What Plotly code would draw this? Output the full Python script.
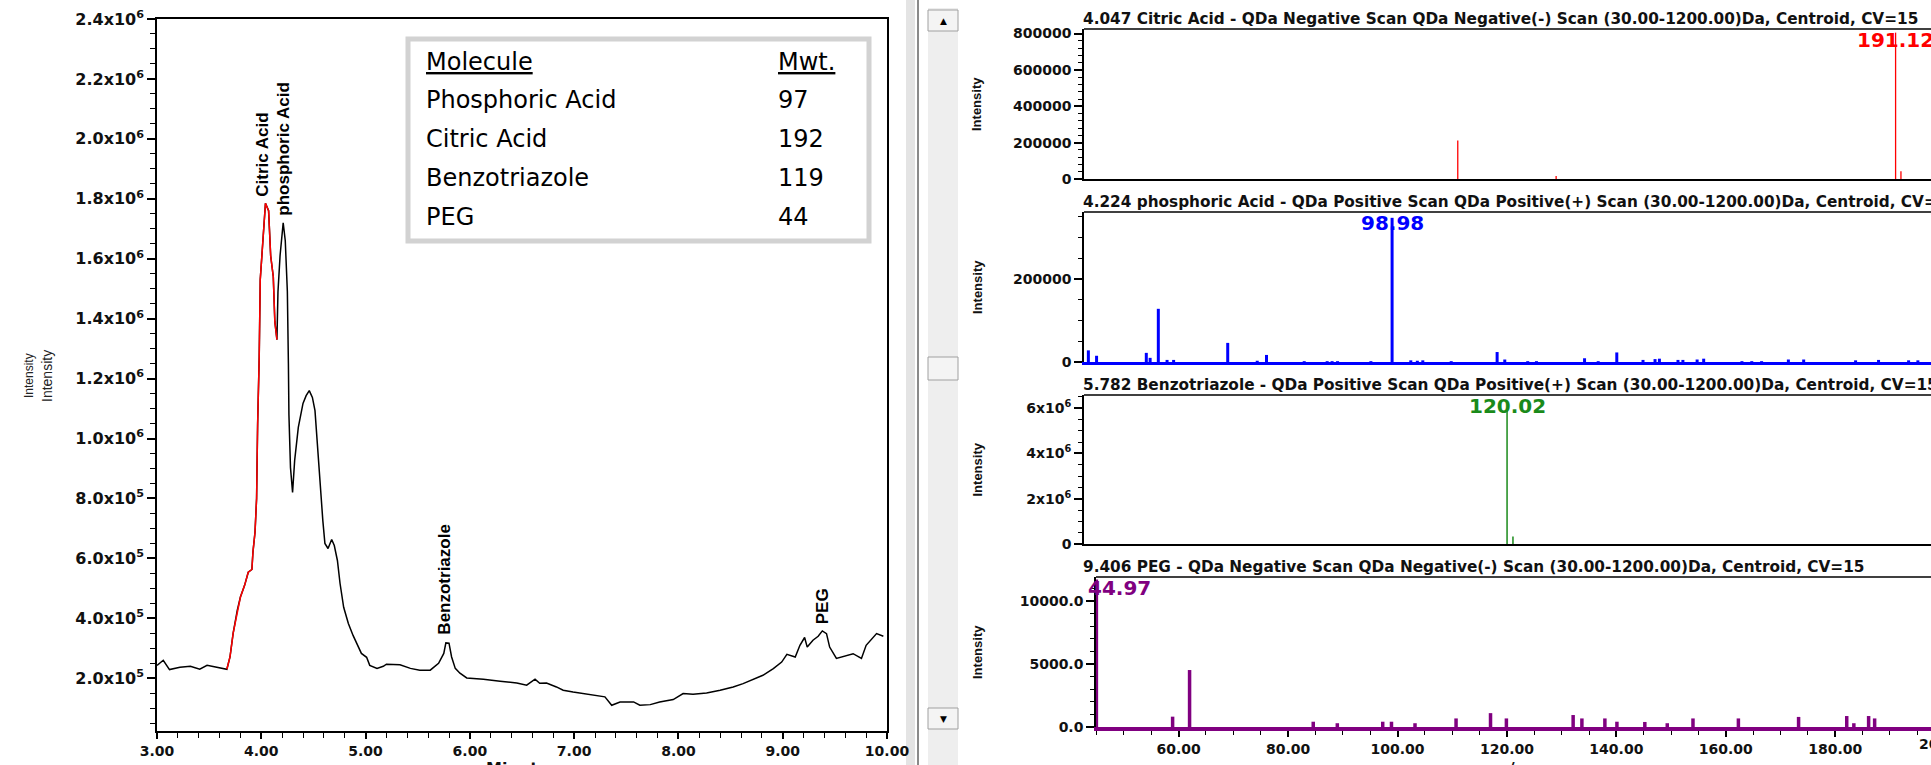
import plotly.graph_objects as go

W, H = 1931, 765

# ---------------- data ----------------
chrom_time = [3.00, 3.06, 3.12, 3.22, 3.32, 3.41, 3.48, 3.57, 3.67, 3.70, 3.73, 3.77, 3.80, 3.84, 3.875,
              3.91, 3.92, 3.94, 3.955, 3.965, 3.975, 3.98, 3.99, 4.02, 4.04, 4.07, 4.09, 4.115, 4.13, 4.15,
              4.16, 4.18, 4.20, 4.21, 4.23, 4.25, 4.26, 4.265, 4.28, 4.30, 4.32, 4.355, 4.40, 4.43, 4.46,
              4.49, 4.515, 4.545, 4.57, 4.59, 4.61, 4.64, 4.675, 4.70, 4.73, 4.755, 4.79, 4.835, 4.88, 4.93,
              4.96, 5.01, 5.04, 5.11, 5.17, 5.20, 5.33, 5.43, 5.52, 5.62, 5.70, 5.75, 5.77, 5.80, 5.825,
              5.86, 5.905, 5.97, 6.13, 6.29, 6.45, 6.545, 6.625, 6.67, 6.735, 6.83, 6.895, 6.99, 7.12, 7.25,
              7.295, 7.36, 7.44, 7.57, 7.63, 7.73, 7.82, 7.95, 8.045, 8.14, 8.27, 8.40, 8.525, 8.62, 8.72,
              8.81, 8.91, 8.99, 9.04, 9.12, 9.165, 9.21, 9.235, 9.29, 9.34, 9.38, 9.42, 9.45, 9.515, 9.58,
              9.675, 9.755, 9.80, 9.90, 9.965]
chrom_intensity = [243e3, 260e3, 229e3, 237e3, 240e3, 230e3, 243e3, 237e3, 230e3, 271e3, 350e3, 427e3, 471e3,
                   510e3, 554e3, 563e3, 621e3, 688e3, 800e3, 1050e3, 1193e3, 1270e3, 1530e3, 1680e3, 1785e3,
                   1760e3, 1610e3, 1540e3, 1390e3, 1330e3, 1490e3, 1610e3, 1680e3, 1720e3, 1660e3, 1490e3,
                   1250e3, 1080e3, 903e3, 820e3, 927e3, 1037e3, 1117e3, 1143e3, 1160e3, 1137e3, 1093e3, 937e3,
                   817e3, 727e3, 650e3, 633e3, 663e3, 643e3, 593e3, 517e3, 437e3, 383e3, 343e3, 303e3, 283e3,
                   270e3, 243e3, 233e3, 240e3, 247e3, 245e3, 233e3, 227e3, 227e3, 250e3, 283e3, 318e3, 317e3,
                   271e3, 233e3, 217e3, 201e3, 197e3, 190e3, 184e3, 177e3, 197e3, 183e3, 184e3, 171e3, 160e3,
                   154e3, 147e3, 141e3, 138e3, 110e3, 121e3, 121e3, 110e3, 112e3, 121e3, 129e3, 149e3, 147e3,
                   151e3, 160e3, 171e3, 182e3, 196e3, 210e3, 232e3, 254e3, 280e3, 271e3, 310e3, 336e3, 304e3,
                   327e3, 340e3, 358e3, 349e3, 304e3, 266e3, 273e3, 282e3, 266e3, 310e3, 349e3, 340e3]
citric_window = (3.67, 4.15)

left_xtick_vals = [3, 4, 5, 6, 7, 8, 9, 10]
left_xtick_text = ["3.00", "4.00", "5.00", "6.00", "7.00", "8.00", "9.00", "10.00"]
left_ytick_vals = [2e5, 4e5, 6e5, 8e5, 1.0e6, 1.2e6, 1.4e6, 1.6e6, 1.8e6, 2.0e6, 2.2e6, 2.4e6]
left_ytick_text = ["2.0x10<sup>5</sup>", "4.0x10<sup>5</sup>", "6.0x10<sup>5</sup>", "8.0x10<sup>5</sup>",
                   "1.0x10<sup>6</sup>", "1.2x10<sup>6</sup>", "1.4x10<sup>6</sup>", "1.6x10<sup>6</sup>",
                   "1.8x10<sup>6</sup>", "2.0x10<sup>6</sup>", "2.2x10<sup>6</sup>", "2.4x10<sup>6</sup>"]

peak_names = ["Citric Acid", "phosphoric Acid", "Benzotriazole", "PEG"]
peak_name_time = [4.016, 4.218, 5.76, 9.385]
peak_name_intensity = [1.80e6, 1.737e6, 3.4e5, 3.73e5]

table_header = ["Molecule", "Mwt."]
table_molecules = ["Phosphoric Acid", "Citric Acid", "Benzotriazole", "PEG"]
table_mwt = ["97", "192", "119", "44"]

citric_mz = [111.0, 129.0, 191.12, 192.1]
citric_int = [212000, 16000, 805000, 42000]

phos_mz = [43.4, 44.9, 54.0, 54.7, 56.2, 57.8, 59.0, 68.9, 74.3, 76.0, 82.9, 87.1, 88.0, 89.0, 95.1,
           98.98, 102.4, 103.6, 104.6, 109.8, 118.2, 119.6, 123.8, 125.4, 134.2, 136.7, 140.1, 144.9,
           147.1, 147.9, 151.3, 152.2, 154.8, 156.0, 163.0, 164.8, 166.6, 171.5, 174.3, 183.8, 188.0,
           193.5, 195.2]
phos_int = [28000, 15000, 22000, 10000, 128000, 5000, 5000, 46000, 3000, 17000, 2000, 2000, 2000, 2000, 2000,
            347000, 4000, 3000, 4000, 2000, 24000, 6000, 2000, 2000, 9000, 2000, 23000, 5000,
            7000, 8000, 5000, 5000, 6000, 8000, 2000, 2000, 2000, 6000, 6000, 4000, 5000,
            4000, 4000]

benz_mz = [120.02, 121.1]
benz_int = [5.92e6, 0.33e6]

peg_mz = [44.97, 58.9, 62.0, 84.6, 89.0, 97.3, 98.9, 103.2, 110.7, 117.0, 119.9, 132.1, 133.7, 137.9,
          140.1, 145.2, 149.3, 154.0, 162.3, 173.3, 182.1, 183.4, 186.1, 187.2]
peg_int = [11700, 820, 4520, 420, 300, 420, 420, 300, 680, 1100, 680, 950, 680, 680,
           420, 400, 300, 680, 680, 800, 870, 300, 870, 680]

spectrum_titles = [
    "4.047 Citric Acid - QDa Negative Scan QDa Negative(-) Scan (30.00-1200.00)Da, Centroid, CV=15",
    "4.224 phosphoric Acid - QDa Positive Scan QDa Positive(+) Scan (30.00-1200.00)Da, Centroid, CV=15",
    "5.782 Benzotriazole - QDa Positive Scan QDa Positive(+) Scan (30.00-1200.00)Da, Centroid, CV=15",
    "9.406 PEG - QDa Negative Scan QDa Negative(-) Scan (30.00-1200.00)Da, Centroid, CV=15",
]
base_peak_text = ["191.12", "98.98", "120.02", "44.97"]
base_peak_mz = [191.12, 98.98, 120.02, 44.97]

spec1_ytick_vals = [0, 200000, 400000, 600000, 800000]
spec1_ytick_text = ["0", "200000", "400000", "600000", "800000"]
spec2_ytick_vals = [0, 200000]
spec2_ytick_text = ["0", "200000"]
spec3_ytick_vals = [0, 2e6, 4e6, 6e6]
spec3_ytick_text = ["0", "2x10<sup>6</sup>", "4x10<sup>6</sup>", "6x10<sup>6</sup>"]
spec4_ytick_vals = [0, 5000, 10000]
spec4_ytick_text = ["0.0", "5000.0", "10000.0"]
mz_tick_vals = [60, 80, 100, 120, 140, 160, 180, 200]
mz_tick_text = ["60.00", "80.00", "100.00", "120.00", "140.00", "160.00", "180.00", "200.00"]


# ---------------- helpers ----------------
def fx(px):
    return px / W


def fy(py):
    return 1 - py / H


def sticks(mz, inten):
    xs, ys = [], []
    for m, v in zip(mz, inten):
        xs += [m, m, None]
        ys += [0, v, None]
    return xs, ys


TICKF = dict(family="DejaVu Sans", size=16, color="#111111", weight="bold")
TICKF_R = dict(family="DejaVu Sans", size=14, color="#111111", weight="bold")

fig = go.Figure()

# ---------------- chromatogram ----------------
fig.add_trace(go.Scatter(x=chrom_time, y=chrom_intensity, mode="lines",
                         line=dict(color="black", width=1.5, shape="linear"),
                         xaxis="x", yaxis="y", hoverinfo="skip"))
red_t = [t for t in chrom_time if citric_window[0] <= t <= citric_window[1]]
red_v = [v for t, v in zip(chrom_time, chrom_intensity) if citric_window[0] <= t <= citric_window[1]]
fig.add_trace(go.Scatter(x=red_t, y=red_v, mode="lines", line=dict(color="#ff0000", width=1.5),
                         xaxis="x", yaxis="y", hoverinfo="skip"))

# ---------------- spectra ----------------
spectra = [
    (citric_mz, citric_int, "#ff0000", 1.3),
    (phos_mz, phos_int, "#0000ff", 3),
    (benz_mz, benz_int, "#1a8a1a", 1.5),
    (peg_mz, peg_int, "#800080", 3.5),
]
for i, (mz, inten, col, lw) in enumerate(spectra):
    xs, ys = sticks(mz, inten)
    fig.add_trace(go.Scatter(x=xs, y=ys, mode="lines", line=dict(color=col, width=lw),
                             xaxis="x%d" % (i + 2), yaxis="y%d" % (i + 2), hoverinfo="skip",
                             connectgaps=False))

layout = dict(
    width=W, height=H, margin=dict(l=0, r=0, t=0, b=0, pad=0, autoexpand=False),
    paper_bgcolor="white", plot_bgcolor="white", showlegend=False,
)

# left chart axes
layout["xaxis"] = dict(domain=[fx(157), fx(887)], range=[3, 10], anchor="y", automargin=False,
                       showline=True, linecolor="black", linewidth=2, mirror=True,
                       ticks="outside", ticklen=6, tickwidth=1.5, tickcolor="black",
                       tickmode="array", tickvals=left_xtick_vals, ticktext=left_xtick_text,
                       tickfont=dict(TICKF, size=14),
                       minor=dict(ticks="outside", ticklen=5, tickcolor="black", tickwidth=1.2,
                                  tickmode="linear", tick0=3, dtick=0.2),
                       showgrid=False, zeroline=False)
layout["yaxis"] = dict(domain=[fy(731), fy(19)], range=[2.4e4, 2.4e6], anchor="x", automargin=False,
                       showline=True, linecolor="black", linewidth=1.5, mirror=True,
                       ticks="outside", ticklen=8, tickwidth=1.5, tickcolor="black",
                       tickmode="array", tickvals=left_ytick_vals, ticktext=left_ytick_text,
                       tickfont=TICKF,
                       minor=dict(ticks="outside", ticklen=5, tickcolor="black", tickwidth=1.2,
                                  tickmode="linear", tick0=0, dtick=5e4),
                       showgrid=False, zeroline=False)

# right panels
panels = [
    (1084, 29, 179, [42.6, 197.6], [0, 825000], spec1_ytick_vals, spec1_ytick_text, 40000, "black", 1.5),
    (1084, 212, 362, [42.6, 197.6], [0, 361000], spec2_ytick_vals, spec2_ytick_text, 50000, "#0000ff", 3),
    (1084, 395, 544, [42.6, 197.6], [0, 6.58e6], spec3_ytick_vals, spec3_ytick_text, 5e5, "black", 1.5),
    (1096, 577, 727, [44.9, 197.5], [0, 11900], spec4_ytick_vals, spec4_ytick_text, 1000, "#800080", 3.5),
]
shapes = []
annotations = []
for i, (ax, top, bot, xr, yr, tv, tt, mdt, bcol, bw) in enumerate(panels):
    n = i + 2
    xa = dict(domain=[fx(ax), 1.0], range=xr, anchor="y%d" % n, showline=True, linecolor=bcol,
              linewidth=bw, mirror=False, showgrid=False, zeroline=False, automargin=False)
    if n == 5:
        xa.update(ticks="outside", ticklen=6, tickwidth=1.5, tickcolor="black", tickmode="array",
                  tickvals=mz_tick_vals, ticktext=mz_tick_text, tickfont=TICKF_R,
                  minor=dict(ticks="outside", ticklen=4, tickcolor="black", tickwidth=1.2,
                             tickmode="linear", tick0=0, dtick=5))
    else:
        xa.update(showticklabels=False, ticks="")
    layout["xaxis%d" % n] = xa
    layout["yaxis%d" % n] = dict(domain=[fy(bot), fy(top)], range=yr, anchor="x%d" % n, automargin=False,
                                 showline=True, linecolor="black", linewidth=1.5, mirror=False,
                                 ticks="outside", ticklen=8, tickwidth=1.5, tickcolor="black",
                                 tickmode="array", tickvals=tv, ticktext=tt, tickfont=TICKF_R,
                                 minor=dict(ticks="outside", ticklen=4, tickcolor="black", tickwidth=1.2,
                                            tickmode="linear", tick0=0, dtick=mdt),
                                 showgrid=False, zeroline=False)
    shapes.append(dict(type="line", xref="paper", yref="paper", x0=fx(ax), x1=1.0,
                       y0=fy(top), y1=fy(top), line=dict(color="black", width=1.5)))
    annotations.append(dict(text=spectrum_titles[i], xref="paper", yref="paper", x=fx(1081),
                            y=fy(top - 10), xanchor="left", yanchor="middle", showarrow=False,
                            font=dict(family="DejaVu Sans", size=15.3, color="#111111", weight="bold")))
    annotations.append(dict(text="Intensity", xref="paper", yref="paper", x=fx(977),
                            y=fy((top + bot) / 2), xanchor="center", yanchor="middle", showarrow=False,
                            textangle=-90,
                            font=dict(family="Liberation Sans", size=13, color="#111111", weight="bold")))
    col = spectra[i][2]
    if n == 5:
        annotations.append(dict(text=base_peak_text[i], xref="paper", yref="paper", x=fx(1086),
                                y=fy(top + 11), xanchor="left", yanchor="middle", showarrow=False,
                                font=dict(family="DejaVu Sans", size=20, color=col, weight="bold")))
    else:
        annotations.append(dict(text=base_peak_text[i], xref="x%d" % n, yref="paper", x=base_peak_mz[i],
                                y=fy(top + 11), xanchor="center", yanchor="middle", showarrow=False,
                                font=dict(family="DejaVu Sans", size=20, color=col, weight="bold")))

# tick label of the m/z axis that falls just past the right edge
annotations.append(dict(text=mz_tick_text[-1], xref="paper", yref="paper", x=fx(1946), y=fy(744),
                        xanchor="center", yanchor="middle", showarrow=False, font=TICKF_R))

# left chart peak names
for name, t, v in zip(peak_names, peak_name_time, peak_name_intensity):
    annotations.append(dict(text=name, xref="x", yref="y", x=t, y=v, xanchor="center", yanchor="bottom",
                            textangle=-90, showarrow=False,
                            font=dict(family="Liberation Sans", size=17, color="black", weight="bold")))

# left y titles (doubled) and axis titles (cut at bottom)
annotations.append(dict(text="Intensity", xref="paper", yref="paper", x=fx(29), y=fy(376),
                        xanchor="center", yanchor="middle", textangle=-90, showarrow=False,
                        font=dict(family="Liberation Sans", size=12, color="#222222")))
annotations.append(dict(text="Intensity", xref="paper", yref="paper", x=fx(47), y=fy(376),
                        xanchor="center", yanchor="middle", textangle=-90, showarrow=False,
                        font=dict(family="Liberation Sans", size=14, color="#222222")))
annotations.append(dict(text="Minutes", xref="paper", yref="paper", x=fx(522), y=fy(768),
                        xanchor="center", yanchor="middle", showarrow=False, font=TICKF))
annotations.append(dict(text="m/z", xref="paper", yref="paper", x=fx(1508), y=fy(768),
                        xanchor="center", yanchor="middle", showarrow=False, font=TICKF))

# molecular weight table
shapes.append(dict(type="rect", xref="paper", yref="paper", x0=fx(408), x1=fx(869), y0=fy(241), y1=fy(39),
                   line=dict(color="#d2d2d2", width=5), fillcolor="white", layer="above"))
TABF = dict(family="DejaVu Sans", size=24, color="black")
annotations.append(dict(text="<u>%s</u>" % table_header[0], xref="paper", yref="paper", x=fx(424), y=fy(62),
                        xanchor="left", yanchor="middle", showarrow=False, font=TABF))
annotations.append(dict(text="<u>%s</u>" % table_header[1], xref="paper", yref="paper", x=fx(776), y=fy(62),
                        xanchor="left", yanchor="middle", showarrow=False, font=TABF))
row_y = [100, 139, 178, 217]
for ry, mol, mw in zip(row_y, table_molecules, table_mwt):
    annotations.append(dict(text=mol, xref="paper", yref="paper", x=fx(424), y=fy(ry),
                            xanchor="left", yanchor="middle", showarrow=False, font=TABF))
    annotations.append(dict(text=mw, xref="paper", yref="paper", x=fx(776), y=fy(ry),
                            xanchor="left", yanchor="middle", showarrow=False, font=TABF))

# separator and scroll bar
shapes.append(dict(type="rect", xref="paper", yref="paper", x0=fx(906), x1=fx(915), y0=0, y1=1,
                   line=dict(width=0), fillcolor="#e4e4e4", layer="below"))
shapes.append(dict(type="line", xref="paper", yref="paper", x0=fx(918), x1=fx(918), y0=0, y1=1,
                   line=dict(color="#8a8a8a", width=2)))
shapes.append(dict(type="rect", xref="paper", yref="paper", x0=fx(928), x1=fx(958), y0=0, y1=fy(8),
                   line=dict(width=0), fillcolor="#eeeeee", layer="below"))
for (b0, b1) in [(10, 31), (357, 380), (708, 729)]:
    shapes.append(dict(type="rect", xref="paper", yref="paper", x0=fx(928), x1=fx(958), y0=fy(b1), y1=fy(b0),
                       line=dict(color="#a0a0a0", width=1), fillcolor="#f4f4f4"))
annotations.append(dict(text="▲", xref="paper", yref="paper", x=fx(943), y=fy(20.5), xanchor="center",
                        yanchor="middle", showarrow=False, font=dict(family="DejaVu Sans", size=9, color="black")))
annotations.append(dict(text="▼", xref="paper", yref="paper", x=fx(943), y=fy(718.5), xanchor="center",
                        yanchor="middle", showarrow=False, font=dict(family="DejaVu Sans", size=9, color="black")))

layout["shapes"] = shapes
layout["annotations"] = annotations
fig.update_layout(layout)

fig.write_html("out.html", config={"displayModeBar": False},
               post_script="document.body.style.margin='0';document.body.style.overflow='hidden';")
